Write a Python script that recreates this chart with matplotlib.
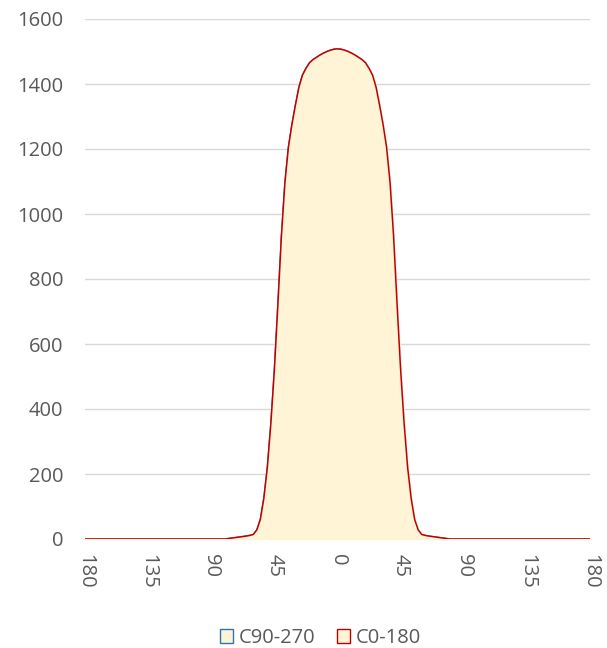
import matplotlib
matplotlib.use("Agg")
import matplotlib.pyplot as plt
from matplotlib.patches import Patch

# angle (deg, signed) and intensity values
half_angles = [0, 2.5, 5, 7.5, 10, 12.5, 15, 17.5, 20, 22.5, 25, 27.5, 30, 32.5, 35, 37.5,
               40, 42.5, 45, 47.5, 50, 52.5, 55, 57.5, 60, 62.5, 65, 70, 75, 80, 90, 135, 180]
half_values = [1508, 1507, 1504, 1500, 1495, 1489, 1482, 1475, 1465, 1448, 1427, 1390, 1335, 1275, 1205, 1095,
               930, 720, 520, 355, 220, 125, 60, 28, 14, 11, 9, 6, 3, 0, 0, 0, 0]

angles = [-a for a in half_angles[:0:-1]] + half_angles
c0_180 = half_values[:0:-1] + half_values
c90_270 = list(c0_180)

tick_pos = [-180, -135, -90, -45, 0, 45, 90, 135, 180]
tick_labels = ["180", "135", "90", "45", "0", "45", "90", "135", "180"]
y_ticks = [0, 200, 400, 600, 800, 1000, 1200, 1400, 1600]

plt.rcParams['font.family'] = ['Open Sans', 'DejaVu Sans']
fig = plt.figure(figsize=(6.07, 6.48), dpi=100)
ax = fig.add_axes([85/607, (648-539)/648, (590-85)/607, (539-19)/648])

fill_col = '#FFF4D6'
ax.fill_between(angles, c90_270, 0, color=fill_col, zorder=1)
ax.plot(angles, c90_270, color='#2E75B6', lw=1.1, zorder=2)
ax.fill_between(angles, c0_180, 0, color=fill_col, zorder=3)
ax.plot(angles, c0_180, color='#C00000', lw=1.1, zorder=4)

ax.set_xlim(-180, 180)
ax.set_ylim(0, 1600)
ax.set_xticks(tick_pos)
ax.set_xticklabels(tick_labels, rotation=-90)
ax.set_yticks(y_ticks)
ax.tick_params(axis='both', length=0, labelsize=14.5, labelcolor='#595959')
ax.tick_params(axis='x', pad=11)
ax.tick_params(axis='y', pad=15.5)
ax.grid(axis='y', color='#D9D9D9', lw=1)
ax.set_axisbelow(True)
for s in ['top', 'right', 'left']:
    ax.spines[s].set_visible(False)
ax.spines['bottom'].set_color('#D9D9D9')

handles = [Patch(facecolor=fill_col, edgecolor='#2E75B6', label='C90-270'),
           Patch(facecolor=fill_col, edgecolor='#C00000', label='C0-180')]
fig.legend(handles=handles, loc='center', bbox_to_anchor=(0.528, 10/648), ncol=2,
           frameon=False, fontsize=14.5, labelcolor='#595959', handlelength=0.65,
           handleheight=0.65, handletextpad=0.3, columnspacing=1.05)

fig.savefig('out.png', dpi=100)
